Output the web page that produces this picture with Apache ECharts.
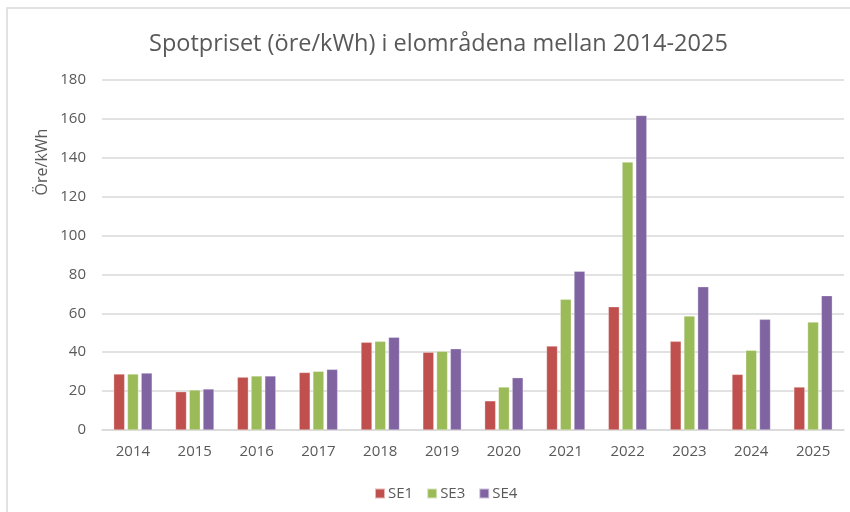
<!DOCTYPE html>
<html>
<head>
<meta charset="utf-8">
<script src="https://cdn.jsdelivr.net/npm/echarts@6/dist/echarts.min.js"></script>
<style>
  html, body { margin: 0; padding: 0; background: #fff; }
  #chart { width: 850px; height: 512px; }
</style>
</head>
<body>
<div id="chart"></div>
<script>
const years = ['2014', '2015', '2016', '2017', '2018', '2019', '2020', '2021', '2022', '2023', '2024', '2025'];
const se1 = [28.8, 19.7, 27.2, 29.6, 45.1, 40.0, 15.0, 43.2, 63.4, 45.6, 28.6, 22.1];
const se3 = [28.8, 20.6, 27.8, 30.2, 45.6, 40.5, 22.1, 67.2, 137.8, 58.6, 41.0, 55.5];
const se4 = [29.3, 21.1, 27.8, 31.2, 47.7, 41.8, 26.9, 81.7, 161.8, 73.7, 56.9, 69.1];

const font = '"Open Sans", sans-serif';
const textGrey = '#595959';
const gridGrey = '#d9d9d9';

const chart = echarts.init(document.getElementById('chart'));

const bar = (name, data, color) => ({
    name: name,
    type: 'bar',
    data: data,
    barWidth: 11,
    barGap: '25%',
    itemStyle: { color: color, borderColor: 'rgba(255,255,255,0.6)', borderWidth: 0.5 }
});

chart.setOption({
    animation: false,
    textStyle: { fontFamily: font },
    title: {
        text: 'Spotpriset (öre/kWh) i elområdena mellan 2014-2025',
        left: 144,
        top: 27,
        textStyle: { fontFamily: font, fontSize: 23.5, fontWeight: 'normal', color: textGrey }
    },
    graphic: [
        {
            type: 'rect',
            shape: { x: 7, y: 8, width: 900, height: 600 },
            style: { fill: 'none', stroke: gridGrey, lineWidth: 1.5 }
        },
        {
            type: 'text',
            x: 42,
            y: 162,
            rotation: Math.PI / 2,
            style: {
                text: 'Öre/kWh',
                font: '16px ' + font,
                fill: textGrey,
                align: 'center',
                verticalAlign: 'middle'
            }
        }
    ],
    legend: {
        top: 481,
        left: 369,
        itemWidth: 10,
        itemHeight: 10,
        itemGap: 13,
        icon: 'rect',
        textStyle: { fontFamily: font, fontSize: 15, color: textGrey, padding: [0, 0, 0, -2] },
        data: ['SE1', 'SE3', 'SE4']
    },
    grid: { left: 102, right: 6, top: 80, bottom: 82, containLabel: false },
    xAxis: {
        type: 'category',
        data: years,
        axisLine: { lineStyle: { color: gridGrey, width: 1.5 } },
        axisTick: { show: false },
        axisLabel: { color: textGrey, fontSize: 15, margin: 14 }
    },
    yAxis: {
        type: 'value',
        min: 0,
        max: 180,
        interval: 20,
        axisLine: { show: false },
        axisTick: { show: false },
        splitLine: { lineStyle: { color: gridGrey, width: 1.5 } },
        axisLabel: { color: textGrey, fontSize: 15, margin: 16 }
    },
    series: [
        bar('SE1', se1, '#c0504d'),
        bar('SE3', se3, '#9bbb59'),
        bar('SE4', se4, '#8064a2')
    ]
});
</script>
</body>
</html>
